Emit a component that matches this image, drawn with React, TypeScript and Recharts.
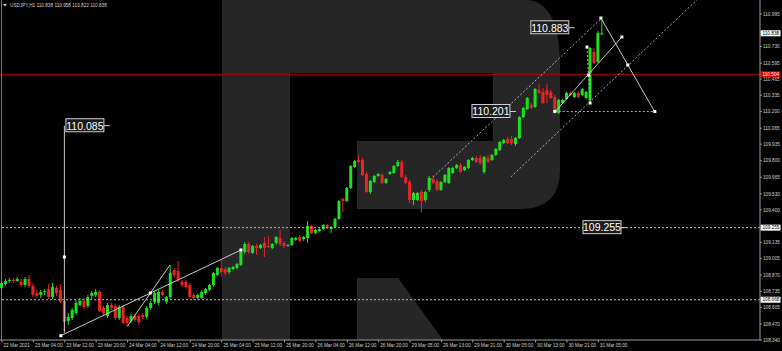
import { ComposedChart, Bar, XAxis, YAxis, ReferenceLine, ReferenceDot } from "recharts";

// USDJPY H1 candles
const opens = [
  108.764, 108.796, 108.821, 108.829, 108.821, 108.813, 108.788, 108.837, 108.780, 108.723,
  108.707, 108.731, 108.756, 108.690, 108.764, 108.747, 108.658, 108.495, 108.519, 108.560,
  108.625, 108.658, 108.617, 108.699, 108.707, 108.731, 108.601, 108.536, 108.625, 108.617,
  108.519, 108.609, 108.519, 108.495, 108.536, 108.536, 108.544, 108.528, 108.601, 108.650,
  108.642, 108.731, 108.650, 108.690, 108.910, 108.902, 108.813, 108.813, 108.788, 108.707,
  108.682, 108.682, 108.723, 108.747, 108.788, 108.870, 108.927, 108.918, 108.894, 108.918,
  108.927, 108.951, 109.057, 109.122, 109.049, 109.106, 109.089, 109.130, 109.106, 109.089,
  109.130, 109.171, 109.130, 109.106, 109.114, 109.155, 109.179, 109.163, 109.171, 109.269,
  109.212, 109.228, 109.244, 109.277, 109.244, 109.261, 109.326, 109.489, 109.472, 109.578,
  109.749, 109.806, 109.806, 109.692, 109.546, 109.627, 109.676, 109.684, 109.619, 109.692,
  109.700, 109.757, 109.790, 109.668, 109.627, 109.480, 109.480, 109.546, 109.480, 109.562,
  109.651, 109.635, 109.562, 109.627, 109.619, 109.700, 109.741, 109.765, 109.725, 109.741,
  109.806, 109.822, 109.822, 109.708, 109.822, 109.806, 109.847, 109.888, 109.945, 109.977,
  109.977, 109.936, 109.985, 110.156, 110.221, 110.254, 110.238, 110.376, 110.360, 110.376,
  110.360, 110.319, 110.189, 110.270, 110.303, 110.352, 110.319, 110.352, 110.335, 110.311,
  110.295, 110.686, 110.604, 110.838,
];
const highs = [
  108.821, 108.837, 108.845, 108.845, 108.853, 108.837, 108.853, 108.870, 108.804, 108.747,
  108.747, 108.756, 108.796, 108.804, 108.780, 108.796, 108.674, 108.560, 108.601, 108.666,
  108.682, 108.682, 108.707, 108.739, 108.756, 108.747, 108.617, 108.642, 108.642, 108.633,
  108.625, 108.625, 108.536, 108.552, 108.552, 108.552, 108.560, 108.617, 108.658, 108.739,
  108.747, 108.747, 108.699, 108.951, 108.927, 108.984, 108.829, 108.829, 108.804, 108.723,
  108.715, 108.747, 108.764, 108.796, 108.894, 108.935, 108.992, 108.935, 108.935, 108.943,
  108.967, 109.073, 109.138, 109.138, 109.114, 109.122, 109.122, 109.179, 109.187, 109.130,
  109.187, 109.236, 109.147, 109.122, 109.179, 109.179, 109.195, 109.187, 109.309, 109.277,
  109.244, 109.252, 109.285, 109.285, 109.269, 109.334, 109.480, 109.497, 109.586, 109.765,
  109.806, 109.847, 109.822, 109.708, 109.643, 109.684, 109.700, 109.700, 109.660, 109.717,
  109.765, 109.806, 109.806, 109.684, 109.643, 109.546, 109.546, 109.562, 109.554, 109.676,
  109.684, 109.651, 109.635, 109.692, 109.749, 109.749, 109.774, 109.782, 109.757, 109.814,
  109.831, 109.839, 109.847, 109.839, 109.847, 109.855, 109.904, 109.961, 109.977, 109.993,
  110.002, 109.993, 110.164, 110.238, 110.319, 110.270, 110.392, 110.425, 110.392, 110.425,
  110.376, 110.335, 110.303, 110.303, 110.360, 110.368, 110.360, 110.368, 110.392, 110.368,
  110.726, 110.718, 110.857, 110.958,
];
const lows = [
  108.747, 108.780, 108.804, 108.804, 108.813, 108.772, 108.772, 108.764, 108.690, 108.682,
  108.682, 108.707, 108.674, 108.674, 108.699, 108.642, 108.397, 108.462, 108.503, 108.544,
  108.617, 108.593, 108.601, 108.674, 108.690, 108.568, 108.536, 108.519, 108.585, 108.503,
  108.503, 108.471, 108.446, 108.479, 108.487, 108.462, 108.511, 108.511, 108.585, 108.633,
  108.625, 108.699, 108.633, 108.674, 108.853, 108.813, 108.772, 108.756, 108.682, 108.666,
  108.666, 108.674, 108.707, 108.739, 108.772, 108.861, 108.853, 108.870, 108.878, 108.910,
  108.918, 108.943, 109.041, 109.041, 109.041, 109.032, 109.081, 109.016, 109.089, 109.081,
  109.114, 109.106, 109.089, 109.098, 109.106, 109.147, 109.138, 109.147, 109.130, 109.203,
  109.203, 109.220, 109.236, 109.244, 109.212, 109.252, 109.318, 109.383, 109.464, 109.570,
  109.741, 109.782, 109.676, 109.537, 109.529, 109.619, 109.668, 109.611, 109.611, 109.684,
  109.692, 109.749, 109.660, 109.611, 109.456, 109.440, 109.472, 109.375, 109.464, 109.546,
  109.611, 109.554, 109.554, 109.619, 109.611, 109.692, 109.733, 109.700, 109.717, 109.733,
  109.798, 109.782, 109.765, 109.692, 109.782, 109.798, 109.839, 109.879, 109.936, 109.936,
  109.928, 109.920, 109.977, 110.148, 110.213, 110.221, 110.230, 110.344, 110.262, 110.270,
  110.303, 110.181, 110.181, 110.262, 110.295, 110.327, 110.311, 110.311, 110.327, 110.303,
  110.270, 110.588, 110.596, 110.822,
];
const closes = [
  108.804, 108.821, 108.829, 108.821, 108.837, 108.788, 108.837, 108.780, 108.707, 108.699,
  108.731, 108.739, 108.690, 108.772, 108.723, 108.650, 108.487, 108.528, 108.585, 108.642,
  108.658, 108.609, 108.690, 108.723, 108.731, 108.576, 108.560, 108.625, 108.601, 108.519,
  108.609, 108.479, 108.479, 108.536, 108.503, 108.487, 108.528, 108.601, 108.642, 108.723,
  108.731, 108.707, 108.690, 108.886, 108.870, 108.829, 108.788, 108.772, 108.690, 108.682,
  108.707, 108.731, 108.756, 108.788, 108.886, 108.927, 108.894, 108.886, 108.927, 108.935,
  108.959, 109.057, 109.122, 109.057, 109.106, 109.089, 109.114, 109.089, 109.098, 109.122,
  109.179, 109.122, 109.106, 109.114, 109.171, 109.171, 109.147, 109.179, 109.269, 109.212,
  109.236, 109.244, 109.277, 109.252, 109.261, 109.326, 109.472, 109.472, 109.578, 109.757,
  109.798, 109.790, 109.684, 109.546, 109.635, 109.676, 109.692, 109.619, 109.651, 109.708,
  109.757, 109.790, 109.668, 109.619, 109.480, 109.537, 109.537, 109.472, 109.546, 109.660,
  109.619, 109.562, 109.627, 109.684, 109.741, 109.741, 109.765, 109.708, 109.749, 109.806,
  109.822, 109.790, 109.782, 109.831, 109.790, 109.847, 109.896, 109.953, 109.969, 109.945,
  109.945, 109.985, 110.156, 110.230, 110.311, 110.230, 110.384, 110.352, 110.270, 110.335,
  110.311, 110.189, 110.295, 110.295, 110.352, 110.335, 110.352, 110.319, 110.384, 110.360,
  110.718, 110.596, 110.840, 110.838,
];

const timeTicks = [0, 8, 16, 24, 32, 40, 48, 56, 64, 72, 80, 88, 96, 104, 112, 120, 128, 136, 144, 152];
const timeLabels = [
  "22 Mar 2021", "23 Mar 04:00", "23 Mar 12:00", "23 Mar 20:00", "24 Mar 04:00",
  "24 Mar 12:00", "24 Mar 20:00", "25 Mar 04:00", "25 Mar 12:00", "25 Mar 20:00",
  "26 Mar 04:00", "26 Mar 12:00", "26 Mar 20:00", "29 Mar 05:00", "29 Mar 13:00",
  "29 Mar 21:00", "30 Mar 05:00", "30 Mar 13:00", "30 Mar 21:00", "31 Mar 05:00",
];
// 110.865 and 109.265 sit under the price tags, so they are not shown
const priceTicks = [
  110.995, 110.73, 110.595, 110.465, 110.335, 110.2, 110.065, 109.935, 109.8,
  109.665, 109.53, 109.4, 109.135, 109.005, 108.87, 108.735, 108.605, 108.47, 108.34,
];

// forecast drawing: [x1, y1, x2, y2] in bar index / price
const solidLines = [
  [15, 108.375, 60.9, 109.073],
  [32.0, 108.454, 42.8, 108.951],
  [15.9, 110.085, 15.9, 108.4],
  [140.9, 110.197, 158.0, 110.808],
  [152.65, 110.962, 166.4, 110.197],
];
const dottedLines = [
  [109.1, 109.643, 152.9, 110.962],
  [129.7, 109.668, 177.1, 111.109],
  [149.1, 110.726, 149.9, 110.27],
  [140.9, 110.201, 166.4, 110.201],
];
const anchors = [
  [15, 108.375], [60.9, 109.073], [37.8, 108.723], [15.9, 109.016],
  [140.9, 110.201], [158.0, 110.808], [149.1, 110.726], [149.9, 110.27],
  [149.5, 110.498], [152.65, 110.962], [159.5, 110.58], [166.4, 110.201],
];
const levelLabels = [
  { i: 27.5, price: 110.085, text: "110.085" },
  { i: 146.0, price: 110.883, text: "110.883" },
  { i: 131.0, price: 110.201, text: "110.201" },
  { i: 159.3, price: 109.255, text: "109.255" },
];

const data = opens.map((o, i) => ({
  i,
  o,
  h: highs[i],
  l: lows[i],
  c: closes[i],
  range: [lows[i], highs[i]],
}));

const GREEN = "#1fe01f";
const RED = "#e8242a";
const FONT = "'Liberation Sans', Arial, sans-serif";

function Candle(props: any) {
  const { x, y, width, height, payload } = props;
  if (x == null || payload == null) return null;
  const top = Math.min(y, y + height);
  const h = Math.abs(height);
  const { o, c, h: hi, l: lo } = payload;
  const py = (p: number) => top + ((hi - p) / (hi - lo)) * h;
  const color = c >= o ? GREEN : RED;
  const cx = x + width / 2;
  const bt = py(Math.max(o, c));
  const bb = py(Math.min(o, c));
  return (
    <g>
      <line x1={cx} x2={cx} y1={top} y2={top + h} stroke={color} strokeWidth={1} />
      <rect x={x} y={bt} width={width} height={Math.max(1, bb - bt)} fill={color} />
    </g>
  );
}

function AxisTag({ viewBox, text, bg, fg }: any) {
  if (!viewBox) return null;
  const x = viewBox.x + viewBox.width;
  const y = viewBox.y;
  return (
    <g>
      <rect x={x + 0.5} y={y - 3} width={20} height={6} fill={bg} />
      <text x={x + 2.5} y={y} dy="0.35em" fontSize={4.7} fill={fg} fontFamily={FONT}>
        {text}
      </text>
    </g>
  );
}

function TimeTick({ x, y, payload }: any) {
  const k = timeTicks.indexOf(payload.value);
  return (
    <g>
      <line x1={x} x2={x} y1={y} y2={y + 2.5} stroke="#9a9a9a" />
      <text x={x + 1.5} y={y + 6.5} fontSize={4.7} fill="#d0d0d0" fontFamily={FONT}>
        {timeLabels[k]}
      </text>
    </g>
  );
}

function Anchor({ cx, cy }: any) {
  return <rect x={cx - 1.5} y={cy - 1.5} width={3} height={3} fill="#ffffff" />;
}

function LevelLabel(text: string) {
  return ({ cx, cy }: any) => {
    const w = 38;
    const right = cx - 6;
    return (
      <g>
        <line x1={right} x2={cx} y1={cy} y2={cy} stroke="#cfcfcf" />
        <rect x={right - w} y={cy - 7} width={w} height={13} fill="rgba(30,30,30,0.85)" stroke="#cfcfcf" strokeWidth={1} />
        <text x={right - w / 2} y={cy} dy="0.36em" textAnchor="middle" fontSize={10.5} fill="#ffffff" fontFamily={FONT}>
          {text}
        </text>
      </g>
    );
  };
}

export default function App() {
  return (
    <div style={{ position: "relative", width: 782, height: 351, background: "#000", overflow: "hidden" }}>
      <style>{`body{margin:0;background:#000}`}</style>
      <svg width={782} height={351} style={{ position: "absolute", left: 0, top: 0 }}>
        <path
          d="M222,0 L525,0 Q560,0 560,67 L560,170 Q560,209 520,209 L357,209 L357,141 L493,141 L493,73 L290,73 L290,340 L222,340 Z"
          fill="#262626"
        />
        <path d="M357,278 L398,278 L443,340 L357,340 Z" fill="#262626" />
        <line x1={1.5} x2={1.5} y1={0} y2={340} stroke="#7a7a7a" />
        <path d="M3,4 L7,4 L5,6.5 Z" fill="#d0d0d0" />
        <text x={10} y={6.8} fontSize={4.7} fill="#d0d0d0" fontFamily={FONT}>
          USDJPY,H1  110.838 110.958 110.822 110.838
        </text>
      </svg>
      <div style={{ position: "absolute", left: 0, top: 0 }}>
        <ComposedChart width={782} height={351} data={data} margin={{ top: 0, right: 0, bottom: 0, left: 0 }}>
          <XAxis
            type="number"
            dataKey="i"
            domain={[-0.51, 193.2]}
            ticks={timeTicks}
            interval={0}
            height={11}
            tickLine={false}
            tickSize={0}
            tickMargin={0}
            tick={<TimeTick />}
            axisLine={{ stroke: "#9a9a9a" }}
            allowDataOverflow
          />
          <YAxis
            orientation="right"
            type="number"
            width={22}
            domain={[108.34, 111.109]}
            ticks={priceTicks}
            interval={0}
            tickFormatter={(v: number) => v.toFixed(3)}
            tick={{ fontSize: 4.7, fill: "#d0d0d0", fontFamily: FONT }}
            tickSize={2}
            tickMargin={1}
            tickLine={{ stroke: "#9a9a9a" }}
            axisLine={{ stroke: "#9a9a9a" }}
            allowDataOverflow
          />
          <Bar dataKey="range" barSize={3} shape={<Candle />} isAnimationActive={false} />

          <ReferenceLine y={110.504} stroke="#b80000" ifOverflow="visible" label={<AxisTag text="110.504" bg="#e00000" fg="#ffffff" />} />
          <ReferenceLine y={109.255} stroke="#bdbdbd" strokeDasharray="2 2" ifOverflow="visible" label={<AxisTag text="109.255" bg="#ffffff" fg="#000000" />} />
          <ReferenceLine y={108.668} stroke="#bdbdbd" strokeDasharray="2 2" ifOverflow="visible" label={<AxisTag text="108.668" bg="#ffffff" fg="#000000" />} />
          <ReferenceLine y={110.838} stroke="none" ifOverflow="visible" label={<AxisTag text="110.838" bg="#ffffff" fg="#000000" />} />

          {solidLines.map((s, k) => (
            <ReferenceLine
              key={`s${k}`}
              segment={[{ x: s[0], y: s[1] }, { x: s[2], y: s[3] }]}
              stroke="#c8c8c8"
              strokeWidth={1}
              ifOverflow="visible"
            />
          ))}
          {dottedLines.map((s, k) => (
            <ReferenceLine
              key={`d${k}`}
              segment={[{ x: s[0], y: s[1] }, { x: s[2], y: s[3] }]}
              stroke="#b0b0b0"
              strokeDasharray="2 2"
              ifOverflow="hidden"
            />
          ))}
          {anchors.map((a, k) => (
            <ReferenceDot key={`a${k}`} x={a[0]} y={a[1]} r={2} shape={<Anchor />} ifOverflow="visible" />
          ))}
          {levelLabels.map((l) => (
            <ReferenceDot key={l.text} x={l.i} y={l.price} r={2} shape={LevelLabel(l.text)} ifOverflow="visible" />
          ))}
        </ComposedChart>
      </div>
    </div>
  );
}
